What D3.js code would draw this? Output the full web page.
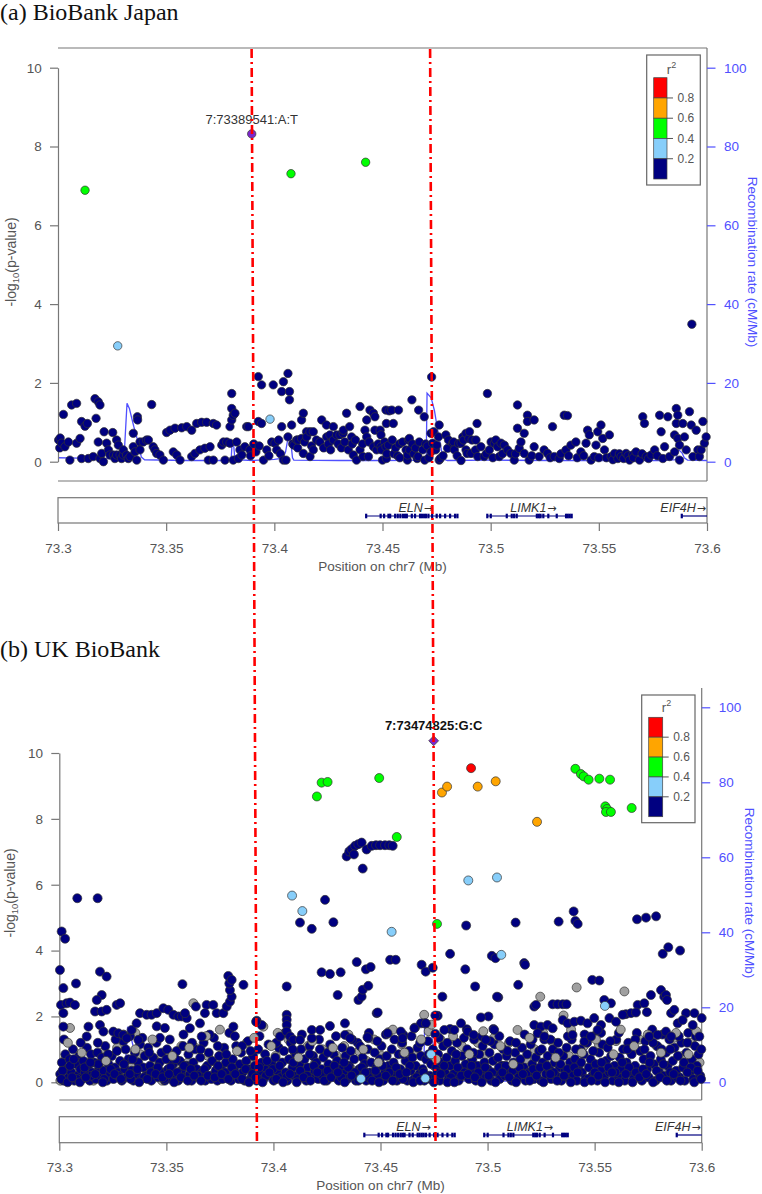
<!DOCTYPE html>
<html><head><meta charset="utf-8">
<script src="https://cdn.jsdelivr.net/npm/d3@7"></script>
<style>body{margin:0;background:#fff}svg{display:block}</style>
</head><body>
<svg id="c" width="762" height="1194"></svg>
<script>
// ---------------- DATA ----------------
const REGION_START_KB = 73300;           // positions below are kb beyond 73,300 kb on chr7
const xTicks = [73.3, 73.35, 73.4, 73.45, 73.5, 73.55, 73.6];
const yTicks = [0, 2, 4, 6, 8, 10];
const recTicks = [0, 20, 40, 60, 80, 100];
const ldBreaks = [0.8, 0.6, 0.4, 0.2];
const ldColors = ["#FF0000", "#FFA500", "#00FF00", "#87CEFA", "#000080"];
const panelTitles = ["(a) BioBank Japan", "(b) UK BioBank"];
const leadNames = ["7:73389541:A:T", "7:73474825:G:C"];
const markerLinesMb = [[73.3895, 73.3923], [73.4720, 73.4757]];

// recombination rate (cM/Mb) — [kb, rate]
const recombA = [0,1.0, 10,0.9, 20,0.8, 30.5,0.8, 31.9,14.8, 33,13.5, 35,9, 37,5, 38.5,1.2, 40,0.5, 60,0.3, 80,0.3,
  80.4,4.0, 81.2,4.2, 81.8,0.5, 90,0.3, 100,0.6, 104,0.9, 105.2,2.5, 106,5.0, 106.6,5.6, 107.2,5.9, 108,3.0, 108.4,1.0,
  109,0.4, 130,0.3, 150,0.3, 170.2,0.4, 170.6,17.4, 172.5,16.2, 174,13, 175.5,8, 177.2,3, 178.5,0.6, 180,0.3, 200,0.4,
  230,0.3, 260,0.3, 280,0.3, 285.5,0.5, 287,3.0, 288.5,2.2, 289.5,1.0, 291,0.4, 300,0.3];
const recombB = [0,0.8, 30.5,0.8, 31.9,14.8, 33,13.0, 35,8.5, 37,4.5, 38.5,1.0, 40,0.4, 170.2,0.4, 170.6,16.2, 172.5,15.5,
  174,12, 175.5,7, 177.2,2.5, 178.5,0.5, 180,0.3, 300,0.3];

// genes: name, start kb, end kb, exons (kb)
const geneNames = ["ELN", "LIMK1", "EIF4H"];
const geneStart = [142.4, 198.4, 288.3];
const geneEnd = [184.6, 237.4, 320];
const geneExons = [
  [142.4, 149.1, 150.7, 152.7, 153.5, 155.8, 157.0, 158.2, 159.4, 160.4, 161.2, 163.5, 165.0, 167.3, 168.2, 169.2, 170.1,
   171.2, 172.9, 175.0, 176.6, 178.9, 181.2, 183.5, 184.6],
  [198.4, 200.0, 207.4, 209.7, 210.8, 212.0, 221.3, 222.2, 223.0, 224.3, 226.6, 230.5, 234.8, 235.6, 236.5, 237.4],
  [288.3]
];

// ---- Panel (a) BioBank Japan: [kb, -log10 p] ----
const bbjLead = [89.541, 8.32];
const bbjGreen = [12.5,6.89, 107.7,7.31, 142.2,7.6];
const bbjLightBlue = [27.6,2.94, 98.0,1.08];
const bbjNavy = [
 0.3,0.55, 0.8,0.35, 1.0,0.6, 1.7,0.47, 2.5,1.2, 3.2,0.38, 4.8,0.5, 5.5,0.04, 6.3,1.44, 8.6,1.48, 8.6,0.47, 10.2,0.59,
 10.9,1.02, 10.9,0.08, 12.5,0.9, 13.6,0.97, 14.0,0.08, 16.3,0.13, 17.1,1.6, 17.6,1.1, 18.6,1.52, 18.6,0.5, 19.4,1.44,
 19.4,0.08, 20.2,0.21, 21.0,0.0, 21.3,0.76, 22.5,0.47, 23.3,0.3, 24.0,0.17, 25.3,0.74, 25.6,0.17, 26.3,0.08, 27.1,0.55,
 27.1,0.17, 27.9,0.42, 28.7,0.17, 29.4,0.08, 30.2,0.17, 30.2,0.3, 31.7,0.17, 32.5,0.08, 33.3,0.13, 34.8,0.72, 34.8,0.38,
 35.6,0.25, 36.4,0.04, 36.7,1.14, 36.8,1.06, 37.9,0.5, 37.9,0.3, 39.4,0.5, 40.9,0.55, 41.8,0.55, 43.3,1.45, 44.0,0.38,
 44.8,0.3, 45.6,0.21, 47.1,0.17, 48.7,0.04, 50.2,0.74, 51.8,0.8, 53.3,0.25, 54.1,0.85, 54.9,0.17, 56.4,0.04, 57.2,0.86,
 59.5,0.89, 61.8,0.8, 61.8,0.13, 63.3,0.21, 64.1,0.97, 65.6,0.3, 66.4,1.0, 67.9,0.34, 68.7,1.0, 69.5,0.04, 70.3,0.38,
 71.8,0.97, 71.8,0.04, 73.3,0.93, 75.7,0.42, 76.5,0.5, 77.2,0.04, 78.0,0.5, 79.5,0.47, 79.5,0.89, 80.3,1.06, 80.3,1.35,
 80.3,1.73, 81.0,1.18, 81.0,0.04, 81.8,1.23, 82.6,0.5, 83.4,0.08, 84.1,0.3, 85.0,0.17, 86.4,0.38, 87.2,0.89, 88.0,0.89,
 88.7,0.3, 89.0,0.15, 90.5,0.45, 91.5,0.25, 92.6,2.16, 92.6,1.02, 93.0,0.4, 94.1,1.95, 94.1,0.97, 95.0,0.04, 96.5,0.3,
 97.5,0.15, 98.8,0.5, 99.5,1.95, 100.3,0.47, 101.1,0.3, 102.0,0.55, 102.8,0.2, 103.4,0.89, 103.4,1.78, 104.2,2.03,
 104.2,0.04, 105.4,0.04, 106.3,2.24, 106.3,0.63, 107.0,1.78, 107.0,1.57, 108.0,0.93, 108.5,0.45, 109.0,0.42, 110.3,0.55,
 110.8,0.35, 111.0,0.55, 112.6,1.06, 112.6,0.59, 113.4,1.23, 113.4,0.21, 114.0,0.5, 114.9,0.76, 115.0,0.63, 116.5,0.76,
 116.5,0.13, 117.2,0.4, 118.0,0.3, 118.0,0.76, 119.5,0.55, 121.1,0.5, 121.9,1.06, 122.8,0.35, 124.1,0.93, 124.2,0.63,
 125.0,0.45, 125.7,0.68, 126.0,0.3, 127.3,0.89, 127.3,0.55, 128.8,0.68, 129.5,0.45, 130.3,0.68, 131.0,0.35, 131.8,0.72,
 131.9,0.8, 132.6,0.5, 133.4,1.23, 134.2,0.3, 134.8,0.89, 135.7,0.63, 136.0,0.45, 136.5,0.17, 137.5,0.55, 138.0,0.04,
 139.6,1.4, 139.6,0.3, 140.8,0.45, 141.0,0.13, 141.9,0.8, 142.7,1.06, 142.7,0.63, 143.5,0.13, 143.8,0.5, 144.2,1.31,
 145.8,1.23, 145.8,0.38, 146.5,1.14, 146.5,0.8, 147.3,0.3, 148.0,0.45, 148.9,0.8, 149.3,0.68, 149.3,0.38, 149.5,0.3,
 150.0,0.04, 151.0,0.5, 151.6,1.31, 151.6,0.38, 151.8,0.97, 151.8,0.08, 152.0,0.2, 152.8,0.42, 153.1,1.29, 154.3,1.31,
 154.5,0.55, 155.0,0.97, 155.3,0.2, 156.0,0.35, 157.0,0.15, 157.4,1.31, 157.8,0.45, 158.0,0.1, 159.3,0.5, 160.9,0.3,
 161.5,0.04, 161.6,0.17, 162.0,0.55, 162.4,0.59, 162.6,0.3, 163.6,1.57, 163.8,0.45, 164.5,0.2, 165.3,0.35, 166.0,0.08,
 166.4,0.13, 166.7,1.31, 167.0,0.5, 168.6,0.3, 169.3,1.14, 169.5,0.04, 170.0,0.45, 170.8,0.4, 171.5,0.1, 172.4,0.72,
 172.4,0.25, 172.7,2.15, 173.2,0.47, 173.6,0.76, 174.6,0.3, 175.1,0.42, 175.9,0.63, 176.2,0.93, 176.2,0.04, 176.7,0.08,
 178.0,0.15, 179.3,0.68, 180.1,0.34, 180.5,0.55, 182.4,0.47, 182.9,0.5, 183.2,0.3, 184.5,0.15, 185.2,0.46, 186.3,0.47,
 186.3,0.03, 187.1,0.63, 187.5,0.55, 188.6,0.72, 188.6,0.3, 189.1,0.21, 189.9,0.59, 190.2,0.76, 190.9,0.21, 191.4,0.55,
 193.0,0.3, 193.2,0.55, 193.7,0.97, 194.0,0.13, 195.5,0.38, 197.0,0.13, 198.0,0.2, 198.5,1.73, 199.4,0.3, 200.2,0.5,
 201.0,0.1, 201.7,0.47, 202.4,0.55, 203.2,0.38, 204.0,0.13, 204.8,0.47, 205.5,0.2, 206.3,0.42, 207.8,0.3, 209.3,0.21,
 210.9,0.04, 211.5,0.2, 212.4,1.44, 212.4,0.85, 213.2,0.34, 214.0,0.5, 215.5,0.72, 215.5,0.21, 217.0,1.18, 217.0,1.02,
 217.8,0.04, 219.0,0.15, 220.1,1.06, 220.1,0.38, 222.4,0.13, 224.7,0.3, 226.3,0.21, 227.5,0.1, 228.6,0.89, 229.4,0.13,
 231.7,0.08, 232.5,0.2, 234.0,1.18, 234.8,0.3, 235.5,1.17, 236.0,0.15, 237.1,0.42, 239.4,0.5, 240.0,0.1, 241.7,0.25,
 243.0,0.15, 244.1,0.47, 244.8,0.8, 245.6,0.68, 246.4,0.04, 247.9,0.13, 248.7,0.42, 249.5,0.76, 250.0,0.1, 251.0,0.93,
 251.8,0.59, 252.6,0.3, 253.5,0.1, 254.9,0.68, 255.7,0.13, 256.5,0.05, 257.3,0.21, 258.8,0.08, 259.5,0.2, 260.3,0.13,
 261.5,0.08, 262.6,0.21, 263.5,0.15, 264.2,0.04, 265.7,0.17, 266.0,0.1, 267.2,0.25, 268.8,0.04, 270.0,0.2, 270.3,1.14,
 271.1,0.97, 271.9,0.13, 273.0,0.08, 274.2,0.17, 275.8,0.3, 277.0,0.15, 278.1,1.18, 278.8,0.76, 279.6,0.08, 280.4,0.38,
 281.9,1.14, 282.7,0.13, 285.0,0.68, 285.0,0.25, 285.8,1.35, 285.8,0.97, 286.5,1.18, 286.5,0.59, 287.3,0.42, 287.3,0.04,
 288.8,0.97, 289.6,0.63, 290.4,0.3, 291.9,1.27, 292.7,0.93, 293.0,3.49, 293.5,0.13, 295.0,0.8, 295.8,0.3, 296.5,0.13,
 297.3,0.3, 298.1,1.02, 298.8,0.47, 299.6,0.63];

// ---- Panel (b) UK BioBank: [kb, -log10 p] ----
const ukbLead = [174.825, 10.37];
const ukbRed = [192.3, 9.54];
const ukbOrange = [178.7,8.8, 181.1,8.98, 195.4,8.98, 203.8,9.14, 223.1,7.91];
const ukbGreen = [120.3,8.68, 122.5,9.1, 125.3,9.12, 149.4,9.24, 157.6,7.45, 176.4,4.81, 241.0,9.52, 243.6,9.36,
 244.9,9.29, 247.2,9.19, 252.2,9.22, 257.2,9.19, 255.0,8.38, 255.8,8.3, 255.3,8.21, 257.6,8.21, 267.3,8.33];
const ukbLightBlue = [108.7,5.67, 113.5,5.2, 191.0,6.13, 204.4,6.22, 155.2,4.57, 206.4,3.87, 254.8,2.32, 173.6,0.85,
 170.9,0.12, 140.9,0.11];
const ukbGrey = [0.5,0.05, 3.0,0.75, 5.0,1.65, 9.0,0.3, 13.0,0.6, 16.0,0.05, 20.0,0.9, 23.5,0.4, 27.0,1.05, 31.0,0.2,
 34.0,0.55, 35.5,1.5, 38.0,0.85, 41.0,0.3, 44.5,0.7, 48.0,0.05, 51.0,0.9, 54.5,0.5, 57.0,1.1, 60.0,0.6, 62.6,2.4,
 63.5,1.05, 66.0,0.3, 69.5,0.8, 73.0,0.6, 76.0,0.85, 78.0,0.35, 81.5,0.55, 84.0,0.2, 87.5,1.2, 90.0,0.7, 93.0,0.1,
 95.3,1.69, 98.0,0.5, 101.0,0.8, 104.5,0.25, 107.0,1.3, 110.0,0.9, 113.0,0.45, 116.0,1.1, 119.5,0.6, 123.0,1.0,
 126.0,0.2, 129.5,0.8, 133.0,1.1, 136.5,0.4, 140.0,0.95, 143.5,0.65, 147.0,1.3, 150.5,0.8, 153.7,1.52, 157.0,0.35,
 160.0,1.15, 163.5,0.6, 167.0,0.9, 170.4,2.05, 172.5,1.55, 175.0,0.5, 178.0,1.3, 181.0,0.7, 184.5,0.3, 188.0,1.1,
 192.0,0.6, 195.5,1.2, 199.0,0.85, 203.0,1.35, 207.0,0.5, 210.0,1.2, 214.0,1.59, 218.0,0.7, 222.0,1.0, 224.6,2.6,
 227.0,0.55, 230.0,1.25, 235.5,2.03, 238.0,0.8, 241.6,2.88, 245.0,1.1, 249.0,0.6, 252.0,1.15, 256.0,0.4, 260.0,1.25,
 263.9,2.76, 267.0,0.9, 271.0,1.3, 275.0,0.7, 279.0,1.1, 283.0,0.5, 287.0,1.35, 291.0,0.8, 295.0,1.2, 299.0,0.6];
const ukbGreyTop = [4.0,1.2, 10.5,0.9, 21.8,0.65, 30.0,1.45, 35.5,1.0, 43.5,1.3, 52.8,0.8, 60.7,1.05, 68.6,1.4,
 75.0,1.6, 83.0,0.95, 91.0,1.35, 99.0,1.1, 102.0,1.5, 111.7,0.75, 118.2,1.25, 127.8,1.05, 135.0,1.45, 142.0,1.0,
 149.0,0.6, 155.8,1.6, 161.2,0.9, 169.0,1.3, 173.8,1.75, 176.0,0.7, 183.9,1.4, 191.5,0.85, 198.0,1.55, 206.0,1.1,
 212.0,0.55, 219.6,1.35, 226.0,1.5, 231.8,0.75, 239.0,1.6, 244.0,0.9, 250.6,1.3, 258.8,0.85, 262.2,1.6, 268.4,1.1,
 274.8,1.45, 281.0,0.9, 288.0,1.5, 293.8,0.85, 297.5,1.55];
const ukbNavyBand = [
 0.4,0.25, 1.2,0.6, 2.0,0.05, 2.8,0.85, 3.5,0.4, 4.3,0.15, 4.8,0.7, 5.6,0.3, 6.4,1.0, 7.0,0.05, 7.8,0.55, 8.6,0.2,
 9.3,0.8, 9.9,0.4, 10.6,0.1, 11.2,0.65, 12.0,0.3, 12.9,1.05, 13.5,0.5, 14.2,0.05, 14.8,0.85, 15.5,0.3, 16.3,0.6,
 17.0,0.1, 17.8,0.9, 18.6,0.45, 19.4,0.2, 19.9,0.75, 20.7,0.35, 21.5,1.1, 22.2,0.05, 23.0,0.55, 23.8,0.25, 24.5,0.8,
 25.3,0.1, 26.0,0.45, 26.9,0.95, 27.6,0.3, 28.4,0.65, 29.2,0.05, 29.9,1.25, 30.6,0.4, 31.5,0.15, 32.3,0.7, 33.0,1.4,
 33.8,0.35, 34.6,0.05, 35.3,0.9, 36.1,0.25, 36.9,0.6, 37.7,1.15, 38.4,0.1, 39.2,0.45, 39.9,0.8, 40.7,0.2, 41.5,1.05,
 42.3,0.5, 43.0,0.05, 43.8,0.75, 44.6,0.35, 45.4,1.2, 46.1,0.15, 46.9,0.6, 47.7,0.9, 48.5,0.3, 49.3,0.05, 50.0,0.7,
 50.8,0.4, 51.6,1.3, 52.4,0.1, 53.1,0.55, 54.0,0.25, 54.8,0.95, 55.5,0.05, 56.3,0.65, 57.1,0.35, 57.9,1.1, 58.7,0.15,
 59.5,0.5, 60.3,0.85, 61.0,0.25, 61.8,0.05, 62.6,0.6, 63.4,1.0, 64.2,0.4, 65.0,0.15, 65.8,0.75, 66.6,0.3, 67.4,1.2,
 68.2,0.05, 69.0,0.5, 69.8,0.9, 70.6,0.2, 71.4,0.65, 72.2,1.35, 73.0,0.35, 73.8,0.05, 74.6,0.8, 75.4,0.45, 76.2,0.1,
 77.0,1.05, 77.8,0.6, 78.6,0.25, 79.4,1.5, 80.2,0.05, 81.0,0.7, 81.8,0.35, 82.6,1.1, 83.4,0.15, 84.2,0.55, 84.9,0.9,
 85.7,0.3, 86.5,0.05, 87.3,0.65, 88.1,1.25, 88.9,0.4, 89.7,0.15, 90.5,0.8, 91.3,0.5, 92.1,0.05, 92.9,1.0, 93.7,0.25,
 94.5,0.6, 95.3,0.1, 96.1,0.85, 96.9,0.4, 97.7,1.15, 98.5,0.2, 99.3,0.55, 100.1,0.05, 100.9,0.75, 101.7,0.35, 102.5,1.05,
 103.3,0.15, 104.1,0.6, 104.9,0.95, 105.7,0.3, 106.5,0.05, 107.3,0.7, 108.1,1.2, 108.9,0.45, 109.7,0.2, 110.5,0.85,
 111.3,0.1, 112.1,0.55, 112.9,1.0, 113.7,0.3, 114.5,0.7, 115.3,0.05, 116.1,0.45, 116.9,1.1, 117.7,0.2, 118.5,0.8,
 119.3,0.35, 120.1,0.6, 120.9,0.1, 121.7,1.0, 122.5,0.4, 123.3,0.75, 124.1,0.2, 124.9,0.05, 125.7,0.55, 126.5,1.15,
 127.3,0.3, 128.1,0.85, 128.9,0.15, 129.7,0.65, 130.5,0.05, 131.3,0.4, 132.1,1.05, 132.9,0.25, 133.7,0.8, 134.5,0.1,
 135.3,0.5, 136.1,0.95, 136.9,0.3, 137.7,0.7, 138.5,0.05, 139.3,1.2, 140.1,0.4, 140.9,0.15, 141.7,0.75, 142.5,0.55,
 143.3,0.05, 144.1,1.0, 144.9,0.3, 145.7,0.6, 146.5,0.1, 147.3,0.9, 148.1,0.45, 148.9,0.2, 149.7,0.7, 150.5,1.1,
 151.3,0.05, 152.1,0.35, 152.9,0.8, 153.7,0.5, 154.5,0.15, 155.3,1.0, 156.1,0.6, 156.9,0.3, 157.7,0.05, 158.5,0.85,
 159.3,0.4, 160.1,1.2, 160.9,0.2, 161.7,0.65, 162.5,0.05, 163.3,0.95, 164.1,0.35, 164.9,0.75, 165.7,0.1, 166.5,0.5,
 167.3,1.05, 168.1,0.25, 168.9,0.8, 169.7,0.4, 170.5,0.05, 171.3,0.7, 172.1,1.25, 172.9,0.2, 173.7,0.55, 174.5,1.0,
 175.3,0.15, 176.1,0.45, 176.9,0.85, 177.7,0.05, 178.5,0.6, 179.3,1.1, 180.1,0.3, 180.9,0.75, 181.7,0.1, 182.5,0.5,
 183.3,0.95, 184.1,0.25, 184.9,0.65, 185.7,1.2, 186.5,0.05, 187.3,0.4, 188.1,0.8, 188.9,0.2, 189.7,0.55, 190.5,1.0,
 191.3,0.1, 192.1,0.35, 192.9,0.7, 193.7,1.3, 194.5,0.05, 195.3,0.5, 196.1,0.85, 196.9,0.25, 197.7,1.1, 198.5,0.6,
 199.3,0.15, 200.1,0.4, 200.9,0.9, 201.7,0.05, 202.5,0.65, 203.3,1.15, 204.1,0.3, 204.9,0.75, 205.7,0.1, 206.5,0.5,
 207.3,1.0, 208.1,0.2, 208.9,0.8, 209.7,0.4, 210.5,1.25, 211.3,0.05, 212.1,0.6, 212.9,0.9, 213.7,0.3, 214.5,0.15,
 215.3,0.7, 216.1,1.05, 216.9,0.45, 217.7,0.05, 218.5,0.85, 219.3,0.3, 220.1,1.15, 220.9,0.55, 221.7,0.1, 222.5,0.75,
 223.3,0.35, 224.1,0.95, 224.9,0.05, 225.7,0.6, 226.5,1.3, 227.3,0.25, 228.1,0.8, 228.9,0.4, 229.7,0.1, 230.5,1.0,
 231.3,0.6, 232.1,0.2, 232.9,1.2, 233.7,0.45, 234.5,0.05, 235.3,0.8, 236.1,0.35, 236.9,1.05, 237.7,0.15, 238.5,0.6,
 239.3,1.3, 240.1,0.25, 240.9,0.7, 241.7,0.05, 242.5,0.5, 243.3,1.0, 244.1,0.3, 244.9,0.85, 245.7,0.1, 246.5,1.2,
 247.3,0.45, 248.1,0.7, 248.9,0.2, 249.7,1.4, 250.5,0.55, 251.3,0.05, 252.1,0.9, 252.9,0.35, 253.7,1.15, 254.5,0.15,
 255.3,0.65, 256.1,1.05, 256.9,0.3, 257.7,0.8, 258.5,0.05, 259.3,0.5, 260.1,1.3, 260.9,0.2, 261.7,0.75, 262.5,0.4,
 263.3,1.0, 264.1,0.05, 264.9,0.6, 265.7,1.2, 266.5,0.3, 267.3,0.85, 268.1,0.1, 268.9,0.5, 269.7,1.5, 270.5,0.25,
 271.3,0.95, 272.1,0.05, 272.9,0.7, 273.7,1.25, 274.5,0.4, 275.3,0.15, 276.1,0.8, 276.9,1.6, 277.7,0.55, 278.5,0.05,
 279.3,1.1, 280.1,0.3, 280.9,0.7, 281.7,1.45, 282.5,0.2, 283.3,0.9, 284.1,0.5, 284.9,1.3, 285.7,0.05, 286.5,0.65,
 287.3,1.05, 288.1,0.35, 288.9,0.8, 289.7,0.15, 290.5,1.2, 291.3,0.45, 292.1,0.05, 292.9,0.9, 293.7,1.5, 294.5,0.3,
 295.3,0.7, 296.1,0.1, 296.9,1.1, 297.7,0.5, 298.5,0.85, 299.3,0.2,
 1.5,0.35, 5.0,0.5, 8.2,0.1, 11.8,0.45, 15.0,0.2, 18.2,0.55, 21.0,0.1, 24.0,0.4, 27.2,0.2, 30.2,0.55, 33.4,0.1,
 36.5,0.4, 39.6,0.15, 42.8,0.3, 46.0,0.45, 49.0,0.1, 52.0,0.45, 55.0,0.3, 58.2,0.5, 61.4,0.4, 64.6,0.2, 67.8,0.4,
 71.0,0.1, 74.2,0.5, 77.4,0.3, 80.6,0.45, 83.8,0.1, 87.0,0.4, 90.2,0.25, 93.3,0.45, 96.5,0.2, 99.7,0.4, 102.9,0.5,
 106.1,0.15, 109.3,0.6, 112.5,0.35, 115.7,0.2, 118.9,0.5, 122.1,0.25, 125.3,0.35, 128.5,0.5, 131.7,0.15, 134.9,0.45,
 138.1,0.3, 141.3,0.45, 144.5,0.15, 147.7,0.35, 150.9,0.5, 154.1,0.3, 157.3,0.45, 160.5,0.1, 163.7,0.5, 166.9,0.15,
 170.1,0.3, 173.3,0.1, 176.5,0.3, 179.7,0.5, 182.9,0.15, 186.1,0.45, 189.3,0.3, 192.5,0.5, 195.7,0.3, 198.9,0.45,
 202.1,0.3, 205.3,0.45, 208.5,0.5, 211.7,0.35, 214.9,0.45, 218.1,0.25, 221.3,0.4, 224.5,0.45, 227.7,0.5, 230.9,0.3,
 234.1,0.55, 237.3,0.4, 240.5,0.45, 243.7,0.6, 246.9,0.1, 250.1,0.3, 253.3,0.6, 256.5,0.45, 259.7,0.3, 262.9,0.6,
 266.1,0.45, 269.3,0.3, 272.5,0.4, 275.7,0.6, 278.9,0.35, 282.1,0.55, 285.3,0.3, 288.5,0.15, 291.7,0.6, 294.9,0.45,
 298.1,0.35,
 2.2,1.3, 6.8,0.7, 10.0,1.2, 14.5,0.6, 18.0,1.2, 22.8,0.85, 26.3,1.3, 31.0,1.0, 34.2,0.7, 38.8,1.35, 42.0,0.9,
 47.0,1.35, 50.3,1.0, 54.4,0.7, 58.0,1.45, 62.0,1.2, 66.0,1.0, 70.2,1.45, 74.0,1.1, 78.0,0.85, 82.0,1.4, 85.3,1.1,
 89.3,0.95, 93.5,1.4, 97.0,0.65, 101.3,1.2, 105.3,1.5, 109.0,1.0, 113.3,1.45, 117.0,0.85, 121.3,1.3, 125.4,0.9,
 129.2,1.4, 133.0,0.6, 136.7,1.3, 140.5,1.1, 144.6,1.5, 148.5,1.25, 152.5,1.45, 156.5,1.3, 160.7,0.85, 164.5,1.4,
 168.5,1.2, 172.5,0.85, 177.3,1.35, 181.3,1.2, 185.3,0.85, 189.0,1.35, 193.3,0.9, 197.3,1.4, 201.3,1.25, 205.5,1.4,
 209.3,0.95, 213.3,1.2, 217.3,1.45, 221.0,1.3, 225.3,1.0, 229.3,1.3, 233.3,0.9, 237.5,1.4, 241.3,1.0, 245.3,1.45,
 249.3,0.95, 253.0,1.5, 257.3,1.25, 261.3,1.5, 265.3,1.0, 269.0,1.3, 273.3,1.0, 277.3,1.2, 281.3,1.0, 285.3,1.0,
 289.3,1.4, 293.3,1.2, 297.3,1.4, 299.8,1.0,
 0.9,0.1, 3.9,0.0, 6.0,0.15, 9.6,0.0, 12.4,0.15, 16.8,0.25, 20.3,0.0, 25.8,0.25, 28.8,0.1, 32.9,0.25, 37.3,0.0,
 41.1,0.1, 45.0,0.25, 48.2,0.15, 51.2,0.25, 53.6,0.0, 56.8,0.15, 60.0,0.05, 63.0,0.2, 66.2,0.05, 69.4,0.2, 72.6,0.15,
 75.8,0.25, 79.0,0.1, 82.2,0.25, 85.4,0.1, 88.6,0.0, 91.7,0.15, 94.9,0.0, 98.1,0.3, 101.4,0.1, 104.5,0.0, 107.7,0.25,
 110.9,0.0, 114.1,0.15, 117.3,0.05, 120.5,0.3, 123.7,0.05, 126.9,0.15, 130.1,0.3, 133.3,0.0, 136.5,0.2, 139.7,0.05,
 142.9,0.3, 146.1,0.05, 149.3,0.0, 152.5,0.2, 155.7,0.05, 158.9,0.25, 162.1,0.3, 165.3,0.0, 168.5,0.05, 171.7,0.15,
 174.9,0.0, 178.1,0.25, 181.3,0.0, 184.5,0.0, 187.7,0.2, 190.9,0.25, 194.1,0.15, 197.3,0.0, 200.5,0.2, 203.7,0.0,
 206.9,0.3, 210.1,0.15, 213.3,0.0, 216.5,0.25, 219.7,0.05, 222.9,0.2, 226.1,0.0, 229.3,0.25, 232.5,0.05, 235.7,0.2,
 238.9,0.0, 242.1,0.3, 245.3,0.0, 248.5,0.05, 251.7,0.2, 254.9,0.0, 258.1,0.3, 261.3,0.0, 264.5,0.25, 267.7,0.0,
 270.9,0.15, 274.1,0.25, 277.3,0.0, 280.5,0.15, 283.7,0.05, 286.9,0.25, 290.1,0.05, 293.3,0.3, 296.5,0.0, 299.7,0.1];
const ukbNavyHigh = [
 1.1,4.58, 2.7,4.36, 0.3,3.41, 1.9,2.86, 7.8,3.0, 8.4,5.59, 17.9,5.59, 19.0,3.36, 22.1,3.21, 19.8,2.65, 17.5,2.5,
 16.7,2.15, 19.8,2.15, 22.1,2.2, 0.8,2.35, 3.4,2.4, 5.0,2.42, 7.3,2.35, 1.9,2.1, 1.9,1.69, 13.6,1.69, 12.8,1.39,
 19.0,1.74, 20.6,1.54, 25.2,1.54, 27.6,1.49, 29.9,1.44, 31.5,1.34, 33.8,1.59, 36.9,1.29, 26.8,2.35, 28.4,2.4,
 37.7,2.1, 40.8,2.05, 43.1,2.05, 45.5,2.1, 48.6,2.25, 50.9,2.2, 53.3,2.05, 55.6,2.0, 57.2,2.0, 59.5,1.95, 58.7,2.1,
 36.1,1.79, 45.5,1.7, 49.3,1.65, 57.5,2.98, 61.0,1.64, 65.7,1.79, 66.5,1.39, 63.8,2.3, 68.8,2.35, 71.9,2.35, 68.0,2.1,
 73.5,2.1, 76.6,2.1, 78.2,2.3, 79.7,2.45, 80.5,2.6, 79.7,2.8, 79.4,3.0, 78.9,3.23, 80.5,3.11, 81.3,1.69, 86.0,2.96,
 92.2,1.87, 94.5,1.74, 91.9,1.84, 103.1,1.39, 106.2,2.91, 106.2,2.05, 106.2,1.9, 106.2,1.74, 106.2,1.54, 107.8,1.39,
 109.3,1.29, 112.4,1.29, 117.9,1.34, 117.9,1.59, 121.8,1.59, 126.4,1.71, 133.4,1.79, 133.4,1.44, 135.8,1.34,
 144.3,1.34, 148.2,2.1, 148.7,2.12, 143.9,1.37, 124.1,5.54, 112.4,4.85, 117.9,4.66, 128.0,4.86, 122.5,3.34, 126.4,3.29,
 131.4,3.34, 130.0,2.65, 138.9,3.65, 143.2,3.43, 145.4,3.5, 139.7,2.5, 141.2,2.6, 141.7,2.81, 144.3,2.93,
 134.2,6.86, 135.4,7.01, 136.5,7.08, 138.1,7.18, 139.6,7.23, 141.2,7.28, 143.5,7.07, 145.9,7.18, 147.9,7.2, 149.8,7.2,
 152.1,7.2, 154.1,7.2, 155.7,7.18, 137.6,6.92, 141.7,6.49,
 154.5,3.72, 157.1,3.72, 169.2,3.57, 171.1,3.36, 174.4,3.48, 182.5,3.9, 189.6,3.43, 190.0,4.76, 194.2,2.91, 202.0,3.84,
 203.7,3.77, 205.0,2.58, 204.4,2.6, 178.9,2.6, 166.1,1.66, 170.5,1.79, 176.7,2.02, 175.6,1.47, 160.7,1.44, 182.5,1.62,
 190.3,1.61, 200.4,2.0, 202.7,1.62, 213.1,4.85, 217.1,3.62, 217.5,3.57, 214.3,2.96, 221.8,2.3, 222.6,2.35, 230.4,2.37,
 232.7,2.37, 235.1,2.37, 236.9,2.37, 233.2,4.88, 240.2,5.19, 241.0,4.9, 242.1,4.81, 248.9,3.11, 252.2,3.09, 254.5,2.5,
 257.6,2.4, 269.8,4.95, 274.0,5.0, 278.7,5.04, 284.4,4.1, 281.8,3.9, 289.9,4.0, 276.3,2.65, 281.0,2.8, 282.5,2.6,
 283.3,2.65, 283.8,2.5, 270.1,2.35, 273.2,2.4, 274.4,2.13, 264.6,2.07, 267.0,2.1, 269.3,2.12, 285.7,2.1, 287.2,2.2,
 292.7,2.1, 296.6,2.1, 300.0,1.95, 175.6,2.03, 168.9,1.79, 171.2,1.79, 165.8,1.64, 153.3,1.49, 159.5,1.54, 160.3,1.34,
 184.5,1.59, 190.7,1.54, 193.5,1.44, 203.1,1.59, 199.2,1.29, 179.8,1.59, 187.6,1.79, 196.9,1.97,
 221.8,1.74, 224.9,1.69, 228.0,1.74, 230.4,1.64, 235.1,1.89, 237.4,1.79, 240.5,1.84, 243.6,1.87, 246.7,1.79,
 249.8,1.95, 253.0,1.74, 256.9,1.95, 260.0,1.84, 263.1,2.05, 275.5,1.39, 279.4,1.44, 283.3,1.54, 285.7,1.39,
 288.8,1.79, 291.1,1.89, 295.8,1.74, 298.9,1.39, 223.4,1.49, 226.5,1.39, 239.7,1.44, 245.2,1.24, 248.3,1.39, 251.4,1.59];

// ---------------- DRAWING ----------------
const FONT = "'Liberation Sans', Arial, sans-serif";
const AXIS_GREY = "#777", TEXT_GREY = "#555", REC_BLUE = "#5050ff";
const svg = d3.select("#c");
const toObjs = flat => { const o = []; for (let i = 0; i < flat.length; i += 2) o.push({mb: (REGION_START_KB + flat[i]) / 1000, p: flat[i + 1]}); return o; };

const layout = [
  {x0:58, x1:707, y0:461.7, y10:67.7, r100:67.7, top:48, bottom:481, topLine:true, geneTop:497.7, geneBot:523, geneY:516,
   geneLblY:511.5, xPad:12.5, xTitleY:571, titleY:20, lTitleX:16, rTitleX:748, midY:262, r:4.2,
   leg:{x:646.7, y:55, w:53.6, h:130, bx:653.7, by:77.7, bw:13.3, seg:20.26, rX:671.5, rY:73.5},
   lead:bbjLead, diamond:false, leadLblDy:-9.5, leadBold:false,
   groups:[{d:bbjNavy, c:ldColors[4]}, {d:bbjLightBlue, c:ldColors[3]}, {d:bbjGreen, c:ldColors[2]}],
   recomb:recombA},
  {x0:59.3, x1:701.7, y0:1082.3, y10:753, r100:707.3, top:688, bottom:1100, topLine:false, geneTop:1116.7, geneBot:1142.7,
   geneY:1135, geneLblY:1130.5, xPad:11.6, xTitleY:1189.5, titleY:657, lTitleX:14.5, rTitleX:745, midY:893, r:4.5,
   leg:{x:641.7, y:695, w:53.3, h:127.7, bx:648.7, by:717.3, bw:14, seg:19.88, rX:666.5, rY:712},
   lead:ukbLead, diamond:true, leadLblDy:-10.5, leadBold:true,
   groups:[{d:ukbGrey, c:"#A0A0A0"}, {d:ukbNavyBand, c:ldColors[4]}, {d:ukbGreyTop, c:"#A0A0A0"}, {d:ukbNavyHigh, c:ldColors[4]},
           {d:ukbLightBlue, c:ldColors[3]}, {d:ukbGreen, c:ldColors[2]}, {d:ukbOrange, c:ldColors[1]}, {d:ukbRed, c:ldColors[0]}],
   recomb:recombB}
];

const scales = [];
layout.forEach((L, i) => {
  const x = d3.scaleLinear().domain([73.3, 73.6]).range([L.x0, L.x1]);
  const y = d3.scaleLinear().domain([0, 10]).range([L.y0, L.y10]);
  const yr = d3.scaleLinear().domain([0, 100]).range([L.y0, L.r100]);
  scales.push({x, y, yr});
  const g = svg.append("g");

  g.append("text").attr("x", 0).attr("y", L.titleY).text(panelTitles[i])
    .attr("font-family", "'Liberation Serif', 'Times New Roman', serif").attr("font-size", 24).attr("fill", "#111");

  const frame = g.append("g").attr("stroke", AXIS_GREY).attr("stroke-width", 1.2).attr("fill", "none");
  if (L.topLine) frame.append("line").attr("x1", L.x0).attr("x2", L.x1).attr("y1", L.top).attr("y2", L.top);
  frame.append("line").attr("x1", L.x1).attr("x2", L.x1).attr("y1", L.top).attr("y2", L.bottom);
  frame.append("line").attr("x1", L.x0).attr("x2", L.x1).attr("y1", L.bottom).attr("y2", L.bottom);

  const rec = [];
  for (let k = 0; k < L.recomb.length; k += 2) rec.push({mb: (REGION_START_KB + L.recomb[k]) / 1000, r: L.recomb[k + 1]});
  g.append("path").datum(rec).attr("fill", "none").attr("stroke", REC_BLUE).attr("stroke-width", 1.3)
    .attr("d", d3.line().x(d => x(d.mb)).y(d => yr(d.r)));

  const la = g.append("g").attr("transform", `translate(${L.x0},0)`)
    .call(d3.axisLeft(y).tickValues(yTicks).tickSize(8).tickSizeOuter(0).tickPadding(8.3));
  la.selectAll("path,line").attr("stroke", AXIS_GREY).attr("stroke-width", 1.2);
  la.selectAll("text").attr("font-family", FONT).attr("font-size", 13.5).attr("fill", TEXT_GREY);

  const ra = g.append("g").attr("transform", `translate(${L.x1},0)`)
    .call(d3.axisRight(yr).tickValues(recTicks).tickSize(8.5).tickSizeOuter(0).tickPadding(8.5));
  ra.select(".domain").remove();
  ra.selectAll("line").attr("stroke", REC_BLUE).attr("stroke-width", 1.2);
  ra.selectAll("text").attr("font-family", FONT).attr("font-size", 13.5).attr("fill", REC_BLUE);

  const lt = g.append("text").attr("transform", `translate(${L.lTitleX},${L.midY}) rotate(-90)`)
    .attr("text-anchor", "middle").attr("font-family", FONT).attr("font-size", 14).attr("fill", TEXT_GREY);
  lt.append("tspan").text("-log");
  lt.append("tspan").text("10").attr("font-size", 9.5).attr("dy", 3);
  lt.append("tspan").text("(p-value)").attr("dy", -3);
  g.append("text").attr("transform", `translate(${L.rTitleX},${L.midY}) rotate(90)`)
    .attr("text-anchor", "middle").attr("font-family", FONT).attr("font-size", 13.5).attr("fill", REC_BLUE)
    .text("Recombination rate (cM/Mb)");

  L.groups.forEach(gr => {
    g.append("g").selectAll("circle").data(toObjs(gr.d)).join("circle")
      .attr("cx", d => x(d.mb)).attr("cy", d => y(d.p)).attr("r", L.r)
      .attr("fill", gr.c).attr("stroke", "#333").attr("stroke-width", 0.7);
  });

  const ld = {mb: (REGION_START_KB + L.lead[0]) / 1000, p: L.lead[1]};
  if (L.diamond) {
    g.append("path").attr("d", d3.symbol(d3.symbolDiamond2, 62)()).attr("transform", `translate(${x(ld.mb)},${y(ld.p)})`)
      .attr("fill", "#7D26CD").attr("stroke", "#444").attr("stroke-width", 0.8);
  } else {
    g.append("circle").attr("cx", x(ld.mb)).attr("cy", y(ld.p)).attr("r", L.r)
      .attr("fill", "#7D26CD").attr("stroke", "#444").attr("stroke-width", 0.8);
  }
  g.append("text").attr("x", x(ld.mb)).attr("y", y(ld.p) + L.leadLblDy).attr("text-anchor", "middle")
    .attr("font-family", FONT).attr("font-size", 13).attr("fill", L.leadBold ? "#111" : "#333")
    .attr("font-weight", L.leadBold ? "bold" : "normal").text(leadNames[i]);

  const lg = g.append("g");
  lg.append("rect").attr("x", L.leg.x).attr("y", L.leg.y).attr("width", L.leg.w).attr("height", L.leg.h)
    .attr("fill", "#fff").attr("stroke", "#666").attr("stroke-width", 1.2);
  ldColors.forEach((c, k) => {
    lg.append("rect").attr("x", L.leg.bx).attr("y", L.leg.by + k * L.leg.seg).attr("width", L.leg.bw).attr("height", L.leg.seg)
      .attr("fill", c).attr("stroke", "#444").attr("stroke-width", 0.7);
  });
  ldBreaks.forEach((b, k) => {
    const ty = L.leg.by + (k + 1) * L.leg.seg;
    lg.append("line").attr("x1", L.leg.bx + L.leg.bw).attr("x2", L.leg.bx + L.leg.bw + 6).attr("y1", ty).attr("y2", ty)
      .attr("stroke", "#555").attr("stroke-width", 1);
    lg.append("text").attr("x", L.leg.bx + L.leg.bw + 10.5).attr("y", ty).attr("dy", "0.35em").text(b.toFixed(1))
      .attr("font-family", FONT).attr("font-size", 12).attr("fill", TEXT_GREY);
  });
  const rt = lg.append("text").attr("x", L.leg.rX).attr("y", L.leg.rY).attr("text-anchor", "middle")
    .attr("font-family", FONT).attr("font-size", 13).attr("fill", TEXT_GREY);
  rt.append("tspan").text("r");
  rt.append("tspan").text("2").attr("font-size", 9).attr("dy", -6);

  g.append("rect").attr("x", L.x0).attr("y", L.geneTop).attr("width", L.x1 - L.x0).attr("height", L.geneBot - L.geneTop)
    .attr("fill", "none").attr("stroke", AXIS_GREY).attr("stroke-width", 1.2);
  geneNames.forEach((name, k) => {
    const s = x((REGION_START_KB + geneStart[k]) / 1000);
    const e = Math.min(L.x1, x((REGION_START_KB + geneEnd[k]) / 1000));
    g.append("line").attr("x1", s).attr("x2", e).attr("y1", L.geneY).attr("y2", L.geneY)
      .attr("stroke", "#000080").attr("stroke-width", 1.2);
    geneExons[k].forEach(ex => {
      g.append("rect").attr("x", x((REGION_START_KB + ex) / 1000) - 1).attr("y", L.geneY - 2.3).attr("width", 2.2).attr("height", 4.6)
        .attr("fill", "#000080");
    });
    const beyond = geneEnd[k] > 300;
    const t = g.append("text").attr("x", beyond ? L.x1 - 1 : (s + e) / 2 + 4).attr("y", L.geneLblY)
      .attr("text-anchor", beyond ? "end" : "middle").attr("font-family", FONT).attr("font-size", 12.5)
      .attr("fill", "#333");
    t.append("tspan").attr("font-style", "italic").text(name);
    t.append("tspan").attr("font-family", "'DejaVu Sans', sans-serif").attr("font-size", 11).attr("dx", 1).text("\u2192");
  });

  const ba = g.append("g").attr("transform", `translate(0,${L.geneBot})`)
    .call(d3.axisBottom(x).tickValues(xTicks).tickSize(8).tickSizeOuter(0).tickPadding(L.xPad).tickFormat(d => String(d)));
  ba.select(".domain").remove();
  ba.selectAll("line").attr("stroke", AXIS_GREY).attr("stroke-width", 1.2);
  ba.selectAll("text").attr("font-family", FONT).attr("font-size", 13.5).attr("fill", TEXT_GREY);
  g.append("text").attr("x", (L.x0 + L.x1) / 2).attr("y", L.xTitleY).attr("text-anchor", "middle")
    .attr("font-family", FONT).attr("font-size", 13.5).attr("fill", TEXT_GREY).text("Position on chr7 (Mb)");
});

markerLinesMb.forEach(m => {
  svg.append("line").attr("x1", scales[0].x(m[0])).attr("y1", layout[0].top + 1)
    .attr("x2", scales[1].x(m[1])).attr("y2", layout[1].geneBot)
    .attr("stroke", "#FF0000").attr("stroke-width", 2.6).attr("stroke-dasharray", "9,4,2,4");
});
</script>
</body></html>
